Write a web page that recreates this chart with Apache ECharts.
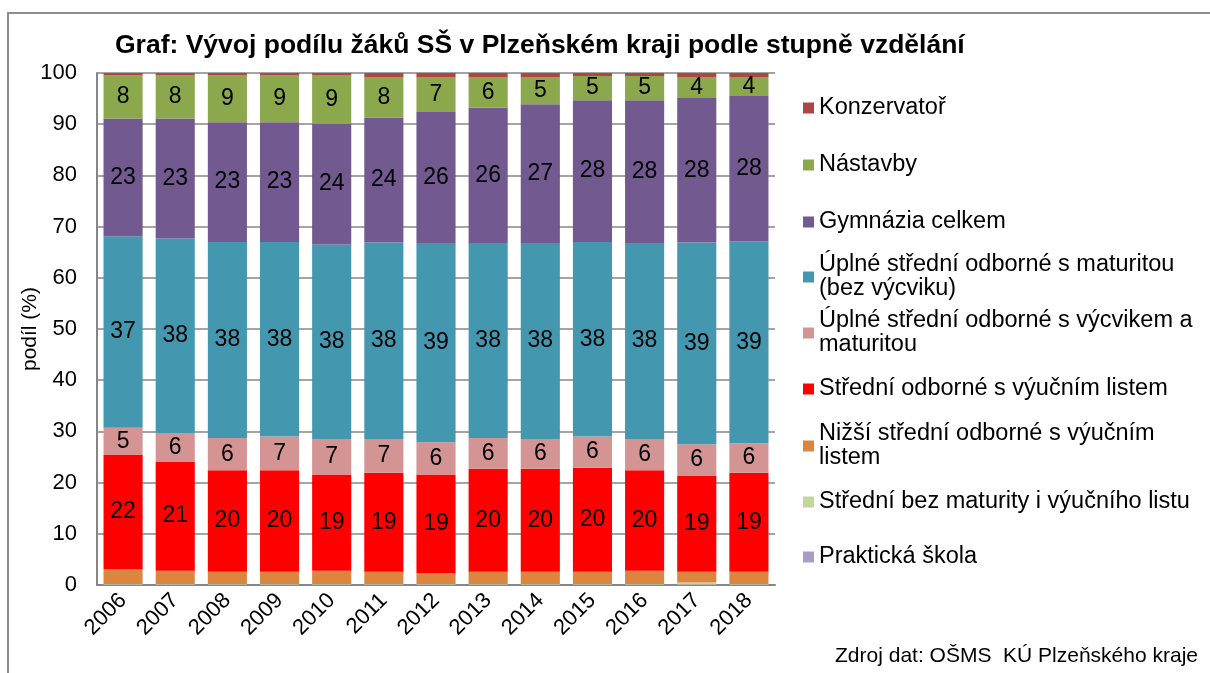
<!DOCTYPE html>
<html>
<head>
<meta charset="utf-8">
<script src="https://cdn.jsdelivr.net/npm/echarts@6/dist/echarts.min.js"></script>
<style>
  html, body { margin: 0; padding: 0; background: #fff; }
  #chart { width: 1210px; height: 673px; }
</style>
</head>
<body>
<div id="chart"></div>
<script>
const years = ['2006', '2007', '2008', '2009', '2010', '2011', '2012', '2013', '2014', '2015', '2016', '2017', '2018']

// shares in % (bottom of stack first)
const prakticka = [0.1, 0.1, 0.1, 0.1, 0.1, 0.1, 0.1, 0.1, 0.1, 0.1, 0.1, 0.1, 0.1]
const bezMaturity = [0.1, 0.1, 0.1, 0.1, 0.1, 0.1, 0.1, 0.1, 0.1, 0.1, 0.1, 0.4, 0.1]
const nizsi = [2.9, 2.6, 2.4, 2.4, 2.6, 2.4, 2.1, 2.4, 2.4, 2.4, 2.6, 2.1, 2.4]
const vyucni = [22.3, 21.3, 19.8, 19.8, 18.8, 19.3, 19.3, 20.1, 20.1, 20.3, 19.6, 18.8, 19.3]
const vycvik = [5.3, 5.6, 6.3, 6.6, 6.9, 6.6, 6.3, 6.0, 5.8, 6.1, 6.1, 6.1, 5.8]
const maturita = [37.4, 38.0, 38.3, 38.0, 38.0, 38.4, 38.9, 38.1, 38.3, 38.0, 38.3, 39.4, 39.4]
const gymnazia = [23.0, 23.4, 23.4, 23.4, 23.6, 24.4, 25.6, 26.4, 27.1, 27.7, 27.9, 28.2, 28.4]
const nastavby = [8.4, 8.4, 9.1, 9.1, 9.4, 7.8, 6.7, 5.9, 5.2, 4.7, 4.7, 4.0, 3.6]
const konzervator = [0.5, 0.5, 0.5, 0.5, 0.5, 0.9, 0.9, 0.9, 0.9, 0.6, 0.6, 0.9, 0.9]

const yTicks = [0, 10, 20, 30, 40, 50, 60, 70, 80, 90, 100]

const FONT = '"Liberation Sans", Arial, sans-serif'

// name, values, colour, show labels, legend icon centre y, two-line legend
const seriesDefs = [
    ['Praktická škola', prakticka, '#A99DC7', false, 557, false],
    ['Střední bez maturity i výučního listu', bezMaturity, '#C3D69B', false, 502, false],
    ['Nižší střední odborné s výučním\nlistem', nizsi, '#DC853F', false, 446, true],
    ['Střední odborné s výučním listem', vyucni, '#FF0000', true, 389, false],
    ['Úplné střední odborné s výcvikem a\nmaturitou', vycvik, '#D59494', true, 333, true],
    ['Úplné střední odborné s maturitou\n(bez výcviku)', maturita, '#4398B0', true, 277, true],
    ['Gymnázia celkem', gymnazia, '#72598F', true, 222, false],
    ['Nástavby', nastavby, '#8CA84C', true, 165, false],
    ['Konzervatoř', konzervator, '#AC4744', false, 108, false]
]

const LH = 24

const series = seriesDefs.map(([name, values, color, labels]) => ({
    name,
    type: 'bar',
    stack: 'total',
    data: values,
    barWidth: '75%',
    itemStyle: { color },
    label: {
        show: labels,
        position: 'inside',
        color: '#000',
        fontFamily: FONT,
        fontSize: 23,
        formatter: (p) => Math.round(p.value)
    }
}))

const legends = seriesDefs.map(([name, , , , cy, twoLine]) => ({
    data: [name],
    left: 803,
    top: twoLine ? cy - LH * 1.5 : cy - LH / 2,
    padding: 0,
    itemWidth: 11,
    itemHeight: 11,
    itemGap: 0,
    icon: 'rect',
    selectedMode: false,
    textStyle: {
        fontFamily: FONT,
        fontSize: 23.5,
        color: '#000',
        lineHeight: LH,
        padding: twoLine ? [LH, 0, 0, 0] : 0
    }
}))

const chart = echarts.init(document.getElementById('chart'))
chart.setOption({
    animation: false,
    backgroundColor: '#fff',
    title: {
        text: 'Graf: Vývoj podílu žáků SŠ v Plzeňském kraji podle stupně vzdělání',
        left: 115,
        top: 32,
        padding: 0,
        textStyle: { fontFamily: FONT, fontSize: 26.5, fontWeight: 'bold', color: '#000' }
    },
    legend: legends,
    grid: { left: 97, right: 435, top: 73, bottom: 88 },
    xAxis: {
        type: 'category',
        data: years,
        axisLine: { lineStyle: { color: '#868686', width: 2 } },
        axisTick: { show: false },
        axisLabel: { rotate: 45, margin: 12, color: '#000', fontFamily: FONT, fontSize: 22, interval: 0 }
    },
    yAxis: {
        type: 'value',
        min: yTicks[0],
        max: yTicks[yTicks.length - 1],
        interval: 10,
        name: 'podíl (%)',
        nameLocation: 'middle',
        nameRotate: 90,
        nameGap: 56,
        nameMoveOverlap: false,
        nameTextStyle: { fontFamily: FONT, fontSize: 21, color: '#000' },
        axisLine: { show: true, lineStyle: { color: '#868686', width: 2 } },
        axisTick: { show: false },
        splitLine: { lineStyle: { color: '#868686', width: 1.5 } },
        axisLabel: { color: '#000', fontFamily: FONT, fontSize: 22, margin: 20 }
    },
    graphic: [
        {
            type: 'rect',
            shape: { x: 8, y: 13, width: 1230, height: 700 },
            style: { fill: 'none', stroke: '#8C8C8C', lineWidth: 2 },
            silent: true
        },
        {
            type: 'text',
            right: 12,
            top: 646,
            style: { text: 'Zdroj dat: OŠMS  KÚ Plzeňského kraje', fontFamily: FONT, fontSize: 21, fill: '#000' }
        }
    ],
    series
})
</script>
</body>
</html>
